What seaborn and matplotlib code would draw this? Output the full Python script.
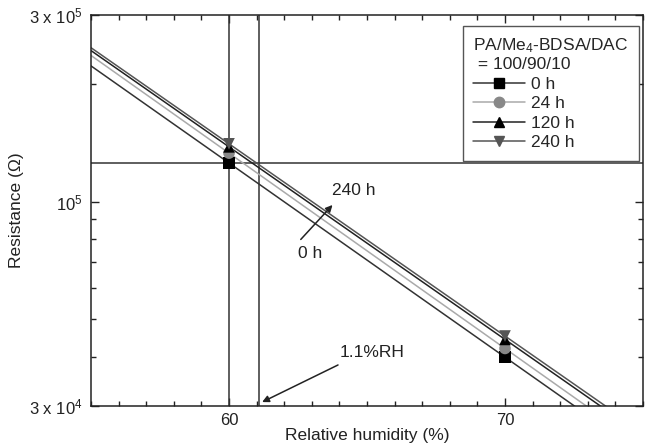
import numpy as np
import pandas as pd
import matplotlib
matplotlib.use("Agg")
import matplotlib.pyplot as plt
import seaborn as sns
from matplotlib.lines import Line2D
from matplotlib.ticker import FixedLocator, NullFormatter, MultipleLocator

# ---- data ----
humidity = [60, 70]
series = ["0 h", "24 h", "120 h", "240 h"]
res_0h = [1.255e5, 4.0e4]
res_24h = [1.33e5, 4.21e4]
res_120h = [1.38e5, 4.44e4]
res_240h = [1.405e5, 4.53e4]
ref_resistance = 1.255e5
ref_humidities = [60, 61.1]
ytick_vals = [3e4, 1e5, 3e5]
ytick_labels = ["3 x 10$^{4}$", "10$^{5}$", "3 x 10$^{5}$"]
xtick_vals = [60, 70]

sns.set_style("ticks")
plt.rcParams["font.family"] = ["Liberation Sans", "DejaVu Sans"]
plt.rcParams["mathtext.fontset"] = "custom"
plt.rcParams["mathtext.rm"] = "Liberation Sans"
plt.rcParams["mathtext.it"] = "Liberation Sans"

W, H = 652, 446
fig = plt.figure(figsize=(W / 100, H / 100), dpi=100)
L, R, T, B = 91, 643, 15, 406
ax = fig.add_axes([L / W, 1 - B / H, (R - L) / W, (B - T) / H])

rows = []
for name, vals in zip(series, [res_0h, res_24h, res_120h, res_240h]):
    for h, v in zip(humidity, vals):
        rows.append({"series": name, "humidity": h, "resistance": v})
df = pd.DataFrame(rows)

line_colors = {"0 h": "#333333", "24 h": "#aaaaaa", "120 h": "#222222", "240 h": "#555555"}
mk_colors = {"0 h": "#000000", "24 h": "#888888", "120 h": "#000000", "240 h": "#555555"}
markers = {"0 h": "s", "24 h": "o", "120 h": "^", "240 h": "v"}

xlim = (55, 75)
ylim = (3e4, 3e5)

# fitted lines (log-linear through the data)
xs = np.array(xlim, dtype=float)
for name in series:
    sub = df[df.series == name]
    p = np.polyfit(sub.humidity, np.log10(sub.resistance), 1)
    fit = pd.DataFrame({"humidity": xs, "resistance": 10 ** np.polyval(p, xs)})
    sns.lineplot(data=fit, x="humidity", y="resistance", ax=ax,
                 color=line_colors[name], lw=1.1, zorder=2)

# reference lines
ax.axhline(ref_resistance, color="#333333", lw=1.1, zorder=1)
for xv in ref_humidities:
    ax.axvline(xv, color="#333333", lw=1.1, zorder=1)

for name in series:
    sub = df[df.series == name]
    sns.scatterplot(data=sub, x="humidity", y="resistance", ax=ax,
                    marker=markers[name], color=mk_colors[name], s=70,
                    edgecolor="none", zorder=4, legend=False)

ax.set_yscale("log")
ax.set_xlim(*xlim)
ax.set_ylim(*ylim)

ax.yaxis.set_major_locator(FixedLocator(ytick_vals))
ax.set_yticklabels(ytick_labels)
ax.yaxis.set_minor_locator(FixedLocator([4e4, 5e4, 6e4, 7e4, 8e4, 9e4, 2e5]))
ax.yaxis.set_minor_formatter(NullFormatter())
ax.xaxis.set_major_locator(FixedLocator(xtick_vals))
ax.xaxis.set_minor_locator(MultipleLocator(1))

ax.tick_params(which="both", direction="in", top=True, right=True, color="#222222",
               width=1.0, labelsize=12, colors="#222222")
ax.tick_params(which="major", length=6)
ax.tick_params(axis="y", which="major", pad=6)
ax.tick_params(axis="x", which="major", pad=5)
ax.tick_params(which="minor", length=3.5)
for s in ax.spines.values():
    s.set_visible(True)
    s.set_linewidth(1.1)
    s.set_color("#222222")

ax.set_xlabel("Relative humidity (%)", fontsize=12.5, labelpad=0, color="#222222")
ax.set_ylabel("Resistance (\u03a9)", fontsize=12.5, labelpad=4, color="#222222")

# annotations
ax.annotate("", xy=(63.75, 9.8e4), xytext=(62.6, 8.0e4),
            arrowprops=dict(arrowstyle="-|>", color="#222222", lw=1.1,
                            mutation_scale=10, shrinkA=0, shrinkB=0))
ax.text(63.75, 1.07e5, "240 h", fontsize=12.5, color="#222222", ha="left", va="center")
ax.text(62.5, 7.7e4, "0 h", fontsize=12.5, color="#222222", ha="left", va="top")
ax.annotate("", xy=(61.2, 3.07e4), xytext=(63.95, 3.82e4),
            arrowprops=dict(arrowstyle="-|>", color="#222222", lw=1.1,
                            mutation_scale=10, shrinkA=0, shrinkB=0))
ax.text(64.0, 4.1e4, "1.1%RH", fontsize=12.5, color="#222222", ha="left", va="center")

handles = [Line2D([], [], color=line_colors[n], lw=1.1, marker=markers[n],
                  markerfacecolor=mk_colors[n], markeredgecolor=mk_colors[n],
                  markersize=7.5) for n in series]
leg = ax.legend(handles, series, title="PA/Me$_{4}$-BDSA/DAC\n = 100/90/10",
                loc="upper right", bbox_to_anchor=(0.993, 0.972), borderaxespad=0,
                fontsize=12.5, title_fontsize=12.5, frameon=True, fancybox=False,
                framealpha=1, edgecolor="#555555", handlelength=3.0,
                handletextpad=0.3, labelspacing=0.25, borderpad=0.6,
                alignment="left")
leg.get_frame().set_linewidth(1.0)
leg.set_zorder(10)

fig.savefig("out.png", dpi=100)
